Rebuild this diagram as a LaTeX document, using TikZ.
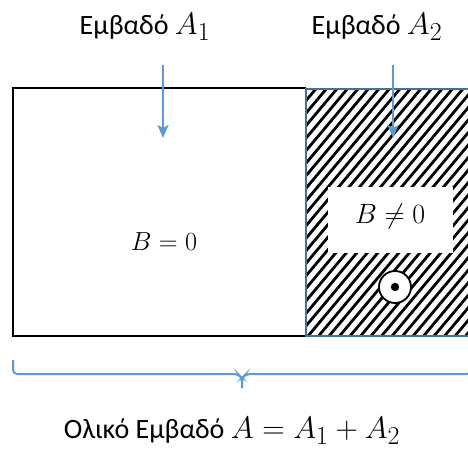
\documentclass[tikz,border=0pt]{standalone}
\usepackage{graphicx}
\usepackage{fontspec}
\setmainfont{Carlito}
\usetikzlibrary{arrows.meta}
\definecolor{arrowblue}{HTML}{5B9BD5}
\definecolor{boxblue}{HTML}{41719C}
\newcommand{\lgmath}[1]{\scalebox{1.25}{$#1$}}
\begin{document}
\begin{tikzpicture}[x=1pt,y=-1pt,
  lbl/.style={inner sep=0pt,font=\fontsize{28}{32}\selectfont},
  mathlbl/.style={inner sep=0pt,font=\fontsize{24.88}{29}\selectfont},
  bluearrow/.style={draw=arrowblue,line width=2pt,-{Stealth[width=11pt,length=13pt,inset=3pt]}},
  hatch/.style={line width=2.8pt,black}]
\useasboundingbox (0,0) rectangle (468,450);
% hatched region
\begin{scope}
  \clip (306,89) rectangle (468,336);
  \foreach \i in {0,...,42} {
    \draw[hatch] ({80+\i*10.5},345) -- ++(224,-267);
  }
\end{scope}
\fill[white] (328,187) rectangle (453,253);
\node[mathlbl] (bne) at (390,217) {\scalebox{1.12}{$B \neq 0$}};
% field symbol
\coordinate (fld) at (395,287);
\draw[black,fill=white,line width=1.8pt] (fld) circle (16pt);
\fill[black] (fld) circle (4.2pt);
% rectangles
\draw[black,line width=2pt] (306,88) -- (13,88) -- (13,336) -- (306,336);
\draw[boxblue,line width=1.6pt] (470,89) -- (306,89) -- (306,336) -- (470,336);
\node[mathlbl] (beq) at (164,242) {\scalebox{1.05}{$B = 0$}};
% top labels
\node[lbl] (t1) at (145,27) {Εμβαδό \lgmath{A_1}};
\node[lbl] (t2) at (377,27) {Εμβαδό \lgmath{A_2}};
\coordinate (a1s) at (163,65);
\coordinate (a1e) at (163,138);
\coordinate (a2s) at (393,65);
\coordinate (a2e) at (393,138);
\draw[bluearrow] (a1s) -- (a1e);
\draw[bluearrow] (a2s) -- (a2e);
% brace
\coordinate (bl) at (13,360);
\coordinate (bm) at (242,388);
\coordinate (br) at (471,360);
\draw[arrowblue,line width=2pt,rounded corners=4pt] (bl) -- (13,374) -- (238,374) -- (242,378) -- (bm);
\draw[arrowblue,line width=2pt,rounded corners=4pt] (br) -- (471,374) -- (246,374) -- (242,378) -- (bm);
\node[lbl] (tot) at (232,431) {Ολικό Εμβαδό \lgmath{A = A_1 + A_2}};
\end{tikzpicture}
\end{document}
